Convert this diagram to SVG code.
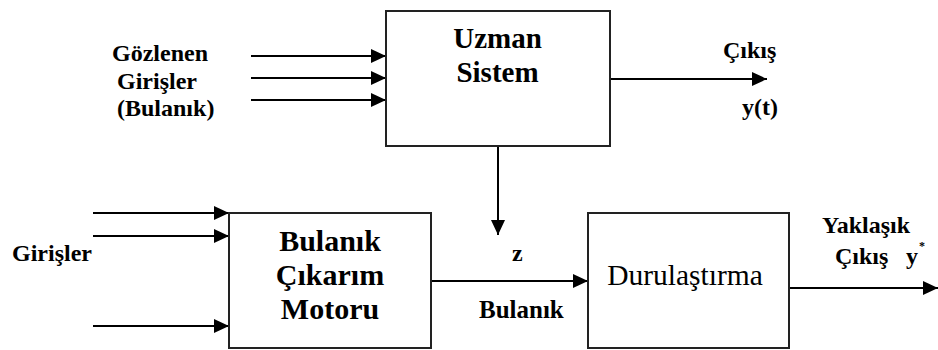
<svg xmlns="http://www.w3.org/2000/svg" width="938" height="350" viewBox="0 0 938 350">
<style>
.box{fill:#fff;stroke:#222;stroke-width:2}
.ln{stroke:#000;stroke-width:2;fill:none}
text{font-family:'Liberation Serif','Tinos','DejaVu Serif',serif;fill:#000}
.t{font-weight:bold}
.r{font-weight:normal}
</style>
<defs>
<marker id="ah" viewBox="0 0 15 14" refX="15" refY="7" markerWidth="15" markerHeight="14" markerUnits="userSpaceOnUse" orient="auto">
<path d="M0,0 L15,7 L0,14 z" fill="#000"/>
</marker>
</defs>
<rect width="938" height="350" fill="#fff"/>
<g id="connectors">
<line class="ln" x1="251" y1="56" x2="386" y2="56" marker-end="url(#ah)"/>
<line class="ln" x1="251" y1="78" x2="386" y2="78" marker-end="url(#ah)"/>
<line class="ln" x1="251" y1="100" x2="386" y2="100" marker-end="url(#ah)"/>
<line class="ln" x1="610" y1="79" x2="767" y2="79" marker-end="url(#ah)"/>
<line class="ln" x1="498" y1="146" x2="498" y2="235" marker-end="url(#ah)"/>
<line class="ln" x1="93" y1="213" x2="229" y2="213" marker-end="url(#ah)"/>
<line class="ln" x1="93" y1="236" x2="229" y2="236" marker-end="url(#ah)"/>
<line class="ln" x1="93" y1="326" x2="229" y2="326" marker-end="url(#ah)"/>
<line class="ln" x1="431" y1="281" x2="588" y2="281" marker-end="url(#ah)"/>
<line class="ln" x1="789" y1="288" x2="938" y2="288" marker-end="url(#ah)"/>
</g>
<g id="uzman">
<rect class="box" x="386" y="11" width="224" height="135"/>
<text class="t" x="497.5" y="48" font-size="29" text-anchor="middle" font-family="Liberation Serif">Uzman</text>
<text class="t" x="497.5" y="82" font-size="29" text-anchor="middle">Sistem</text>
</g>
<g id="motor">
<rect class="box" x="229" y="213" width="202" height="135"/>
<text class="t" x="330" y="251" font-size="30" text-anchor="middle">Bulanık</text>
<text class="t" x="330" y="285" font-size="30" text-anchor="middle">Çıkarım</text>
<text class="t" x="330" y="319" font-size="30" text-anchor="middle">Motoru</text>
</g>
<g id="durulastirma">
<rect class="box" x="588" y="213" width="201" height="135"/>
<text class="r" x="685" y="285" font-size="29.5" text-anchor="middle">Durulaştırma</text>
</g>
<g id="labels">
<text class="t" x="112" y="61" font-size="24">Gözlenen</text>
<text class="t" x="117" y="89" font-size="24">Girişler</text>
<text class="t" x="117" y="116" font-size="24">(Bulanık)</text>
<text class="t" x="723" y="58" font-size="24">Çıkış</text>
<text class="t" x="742" y="115" font-size="24">y(t)</text>
<text class="t" x="12" y="261" font-size="24">Girişler</text>
<text class="t" x="512" y="261" font-size="24">z</text>
<text class="t" x="479" y="318" font-size="25">Bulanık</text>
<text class="t" x="822" y="233" font-size="24">Yaklaşık</text>
<text class="t" x="835" y="264" font-size="24">Çıkış</text>
<text class="t" x="906" y="264" font-size="24">y</text>
<text class="t" x="919" y="250" font-size="12">*</text>
</g>
</svg>
